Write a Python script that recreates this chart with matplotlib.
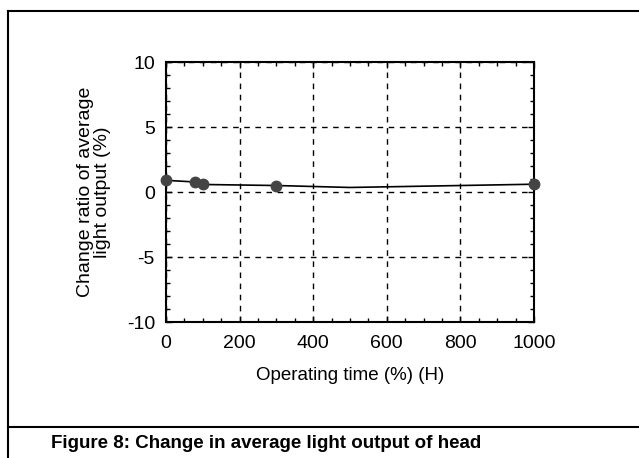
import matplotlib.pyplot as plt
from matplotlib.lines import Line2D
from matplotlib.ticker import MultipleLocator

# line through the readings, markers only where measured
line_x = [0, 80, 100, 300, 500, 1000]
line_y = [0.9, 0.77, 0.58, 0.5, 0.35, 0.6]
mark_x = [0, 80, 100, 300, 1000]
mark_y = [0.9, 0.77, 0.58, 0.5, 0.6]

xticks = [0, 200, 400, 600, 800, 1000]
yticks = [-10, -5, 0, 5, 10]

plt.rcParams['font.family'] = ['Liberation Sans', 'DejaVu Sans']
plt.rcParams['axes.unicode_minus'] = False

fig = plt.figure(figsize=(6.39, 4.58), dpi=100)
ax = fig.add_axes([0.2598, 0.2969, 0.5759, 0.5677])

ax.plot(line_x, line_y, color='black', lw=1.2, zorder=3)
ax.plot(mark_x, mark_y, 'o', color='#444444', ms=7.5, zorder=4, clip_on=False)

ax.set_xlim(0, 1000)
ax.set_ylim(-10, 10)
ax.set_xticks(xticks)
ax.set_yticks(yticks)
ax.xaxis.set_minor_locator(MultipleLocator(50))
ax.yaxis.set_minor_locator(MultipleLocator(1))
ax.tick_params(which='both', direction='in', top=True, right=True,
               labelsize=14, width=1)
ax.tick_params(axis='x', which='major', length=4, pad=9)
ax.tick_params(axis='y', which='major', length=4, pad=8)
ax.tick_params(which='minor', length=3)
ax.grid(True, which='major', color='black', ls=(0, (4, 4)), lw=1)
for s in ax.spines.values():
    s.set_linewidth(1.5)

ax.set_xlabel('Operating time (%) (H)', fontsize=13.5, labelpad=11)
ax.set_ylabel('Change ratio of average\nlight output (%)', fontsize=14,
              labelpad=11, linespacing=1.0)

# outer frame and caption strip
W, H = 639, 458
fig.add_artist(Line2D([8 / W, 8 / W], [0, 1 - 11 / H], color='black', lw=1.5))
fig.add_artist(Line2D([8 / W, 1], [1 - 11 / H, 1 - 11 / H], color='black', lw=1.5))
fig.add_artist(Line2D([8 / W, 1], [1 - 427 / H, 1 - 427 / H], color='black', lw=1.5))
fig.text(266 / W, 1 - 443 / H, 'Figure 8: Change in average light output of head',
         ha='center', va='center', fontsize=13.5, fontweight='bold')

fig.savefig('out.png', dpi=100)
